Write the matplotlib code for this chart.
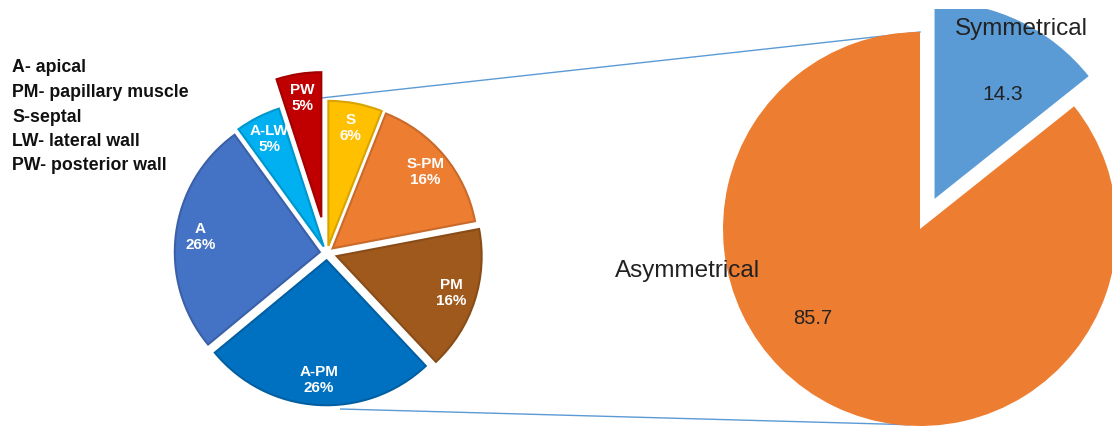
import matplotlib
matplotlib.use("Agg")
import matplotlib.pyplot as plt
from matplotlib.patches import Rectangle
import numpy as np

plt.rcParams['font.family'] = ['Liberation Sans', 'DejaVu Sans']

# left pie: site of hypertrophy
regions = ["S", "S-PM", "PM", "A-PM", "A", "A-LW", "PW"]
region_pct = [6, 16, 16, 26, 26, 5, 5]
region_colors = ["#FFC000", "#ED7D31", "#A0591C", "#0070C0", "#4472C4", "#00B0F0", "#C00000"]
region_explode = [0.05, 0.05, 0.07, 0.05, 0.05, 0.05, 0.25]

# right pie: symmetry
symmetry = ["Symmetrical", "Asymmetrical"]
symmetry_vals = [14.3, 85.7]
symmetry_colors = ["#5B9BD5", "#ED7D31"]
symmetry_explode = [0.17, 0.0]

abbrev_lines = ["A- apical", "PM- papillary muscle", "S-septal",
                "LW- lateral wall", "PW- posterior wall"]

W, H = 1112, 426
fig = plt.figure(figsize=(W / 100, H / 100), dpi=100)
ax = fig.add_axes([0, 0, 1, 1])

def darker(c, f=0.85):
    r, g, b = matplotlib.colors.to_rgb(c)
    return (r * f, g * f, b * f)

# left pie, data units == pixels (y up); explode is absolute, so scale by radius
lc, lr = (327, 173), 145
wedges, texts = ax.pie(region_pct, colors=region_colors,
                       explode=[e * lr for e in region_explode],
                       startangle=90, counterclock=False, center=lc, radius=lr,
                       labels=[f"{n}\n{p}%" for n, p in zip(regions, region_pct)],
                       labeldistance=0.83,
                       wedgeprops=dict(linewidth=1.5),
                       textprops=dict(color="white", fontweight="bold", fontsize=11,
                                      ha="center", va="center"))
for w, c in zip(wedges, region_colors):
    w.set_edgecolor(darker(c))

# right pie
rc, rr = (920, 197), 197
wedges2, _ = ax.pie(symmetry_vals, colors=symmetry_colors,
                    explode=[e * rr for e in symmetry_explode],
                    startangle=90, counterclock=False, center=rc, radius=rr,
                    wedgeprops=dict(linewidth=0))

ax.set_xlim(0, W)
ax.set_ylim(0, H)
ax.set_aspect("equal")
ax.axis("off")

# plot area ends a little below the top edge
clip = Rectangle((0, 0), W, H - 9, transform=ax.transData, visible=False)
ax.add_patch(clip)
for w in wedges2:
    w.set_clip_on(True)
    w.set_clip_path(clip)

# connector lines between the two pies
def on_circle(c, r, ang):
    a = np.deg2rad(ang)
    return c[0] + r * np.cos(a), c[1] + r * np.sin(a)

p1 = on_circle(lc, lr * 1.07, 92)
p2 = on_circle(rc, rr, 90)
p3 = on_circle(lc, lr * 1.08, -85)
p4 = on_circle(rc, rr * 0.995, -93)
ax.plot([p1[0], p2[0]], [p1[1], p2[1]], color="#5B9BD5", lw=1, zorder=0.5)
ax.plot([p3[0], p4[0]], [p3[1], p4[1]], color="#5B9BD5", lw=1, zorder=0.5)

# right pie labels
ax.text(1021, H - 29, symmetry[0], fontsize=17.5, ha="center", va="center", color="#222222")
ax.text(1003, H - 95, f"{symmetry_vals[0]}", fontsize=15, ha="center", va="center", color="#222222")
ax.text(688, H - 271, symmetry[1], fontsize=17.5, ha="center", va="center", color="#222222")
ax.text(813, H - 318, f"{symmetry_vals[1]}", fontsize=14.5, ha="center", va="center", color="#222222")

# abbreviations
for i, s in enumerate(abbrev_lines):
    ax.text(12, H - (68 + 24.5 * i), s, fontsize=12.8, fontweight="bold",
            ha="left", va="center", color="#111111")

fig.savefig("out.png", dpi=100)
